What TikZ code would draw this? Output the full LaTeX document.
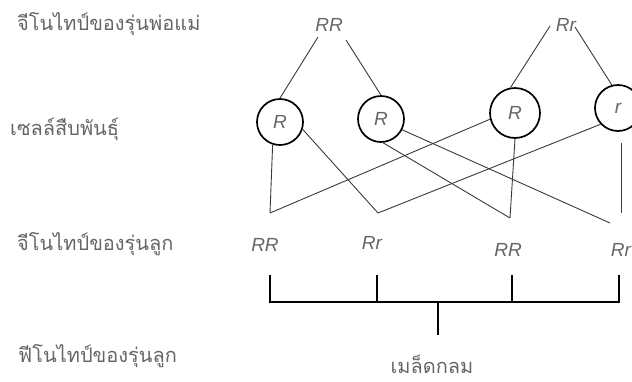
\documentclass[tikz,border=0pt]{standalone}
\usepackage{fontspec}
\setsansfont{Liberation Sans}
\newfontfamily\thaifont[Script=Thai]{Loma}
\definecolor{labelgray}{HTML}{666666}
\definecolor{linegray}{HTML}{3a3a3a}
\tikzset{
  thailabel/.style={font=\thaifont\fontsize{20}{22}\selectfont, text=labelgray, inner sep=0pt},
  allele/.style={font=\sffamily\itshape\fontsize{19}{21}\selectfont, text=labelgray, inner sep=0pt},
  gamete/.style={circle, draw=black, line width=1.7pt, minimum size=46pt, inner sep=0pt,
    font=\sffamily\itshape\fontsize{19}{21}\selectfont, text=labelgray},
  link/.style={draw=linegray, line width=0.9pt},
  brace/.style={draw=black, line width=1.1pt}
}
\begin{document}
\begin{tikzpicture}[x=1pt, y=-1pt]
  \useasboundingbox (0,0) rectangle (632,381);

  % row labels
  \node[thailabel, anchor=west] (l1) at (17,24) {จีโนไทป์ของรุ่นพ่อแม่};
  \node[thailabel, anchor=west] (l2) at (10,129) {เซลล์สืบพันธุ์};
  \node[thailabel, anchor=west] (l3) at (17,244) {จีโนไทป์ของรุ่นลูก};
  \node[thailabel, anchor=west] (l4) at (18,356) {ฟีโนไทป์ของรุ่นลูก};

  % parent genotypes
  \node[allele] (p1) at (329,25) {RR};
  \node[allele] (p2) at (566,25) {Rr};
  \coordinate (p1l) at (318,37);
  \coordinate (p1r) at (346,40);
  \coordinate (p2l) at (550,26);
  \coordinate (p2r) at (575,27);

  % gametes
  \node[gamete] (g1) at (280,122) {R};
  \node[gamete] (g2) at (381,119) {R};
  \node[gamete, minimum size=50pt] (g3) at (515,113) {R};
  \node[gamete] (g4) at (618,108) {r};

  % offspring meeting points
  \coordinate (o1) at (270,213);
  \coordinate (o2) at (378,213);
  \coordinate (o3) at (510,218);
  \coordinate (o4) at (610,223);
  \coordinate (g4s) at (621,143);
  \coordinate (o4v) at (621,213);

  % parents to gametes
  \draw[link] (p1l) -- (g1.north);
  \draw[link] (p1r) -- (g2.north);
  \draw[link] (p2l) -- (g3.100);
  \draw[link] (p2r) -- (g4.105);

  % gametes to offspring
  \draw[link] (g1.-108) -- (o1);
  \draw[link] (g1.-18) -- (o2);
  \draw[link] (g3.194) -- (o1);
  \draw[link] (g2.-85) -- (o3);
  \draw[link] (g2.-27) -- (o4);
  \draw[link] (g3.-90) -- (o3);
  \draw[link] (g4.223) -- (o2);
  \draw[link] (g4s) -- (o4v);

  % offspring genotypes
  \node[allele] (c1) at (265,245) {RR};
  \node[allele] (c2) at (372,243) {Rr};
  \node[allele] (c3) at (508,250) {RR};
  \node[allele] (c4) at (621,250) {Rr};

  % bracket joining offspring to phenotype
  \coordinate (b1) at (270,275);
  \coordinate (b2) at (377,275);
  \coordinate (b3) at (512,275);
  \coordinate (b4) at (619,275);
  \coordinate (bl) at (270,302);
  \coordinate (br) at (619,302);
  \coordinate (bm) at (438,302);
  \coordinate (bs) at (438,335);
  \draw[brace] (b1) -- (bl) -- (br) -- (b4);
  \draw[brace] (b2) -- (b2 |- bl);
  \draw[brace] (b3) -- (b3 |- bl);
  \draw[brace] (bm) -- (bs);

  \node[thailabel] (ph) at (432,364) {เมล็ดกลม};
\end{tikzpicture}
\end{document}
